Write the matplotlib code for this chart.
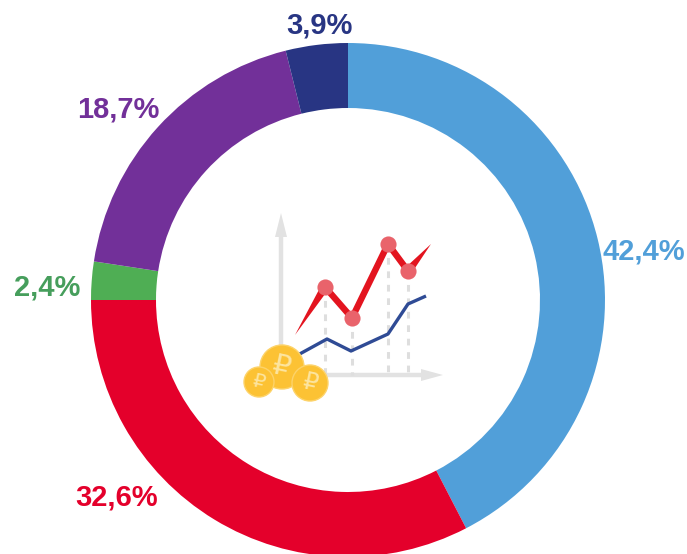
import matplotlib.pyplot as plt
from matplotlib.patches import Circle, Polygon
import numpy as np

plt.rcParams['font.family'] = ['Liberation Sans', 'DejaVu Sans']

labels = ['42,4%', '32,6%', '2,4%', '18,7%', '3,9%']
values = [42.4, 32.6, 2.4, 18.7, 3.9]
colors = ['#519fd9', '#e4002b', '#4fae54', '#723099', '#283583']
label_colors = ['#519fd9', '#e4002b', '#469e5c', '#723099', '#283583']

# little chart icon in the middle, pixel positions from the picture
red_x = [295, 325, 352, 388, 408, 431]
red_y = [335, 287, 318, 244, 271, 244]
blue_x = [296, 327, 351, 388, 408, 426]
blue_y = [356, 339, 351, 334, 304, 296]
coin_x = [282, 259, 310]
coin_y = [367, 382, 383]
coin_r = [22, 15, 18]

W, H = 687, 554
fig = plt.figure(figsize=(W/100, H/100), dpi=100)

# pie axes, donut centre at 348,300 radius 257
ax = fig.add_axes([(348-257)/W, 1-(300+257)/H, 514/W, 514/H])
ax.pie(values, colors=colors, startangle=90, counterclock=False, radius=1,
       wedgeprops=dict(width=1-192/257))
ax.set_xlim(-1, 1)
ax.set_ylim(-1, 1)

# overlay in pixel coords
ov = fig.add_axes([0, 0, 1, 1])
ov.set_xlim(0, W)
ov.set_ylim(H, 0)
ov.axis('off')
ov.patch.set_alpha(0)

ov.plot([281, 281], [235, 375], color='#e2e2e2', lw=3.2)
ov.plot([281, 424], [375, 375], color='#e2e2e2', lw=3.2)
ov.add_patch(Polygon([[275, 237], [281, 213], [287, 237]], color='#e2e2e2', lw=0))
ov.add_patch(Polygon([[421, 369], [443, 375], [421, 381]], color='#e2e2e2', lw=0))

for x, y in zip(red_x[1:5], red_y[1:5]):
    ov.plot([x, x], [y, 375], color='#dedede', lw=2.2, ls=(0, (2.2, 2.2)))

ov.plot(blue_x, blue_y, color='#2f4b95', lw=2.4, solid_capstyle='butt')

# red line is tapered at both ends
ov.plot(red_x[1:5], red_y[1:5], color='#e3141f', lw=4.6, solid_joinstyle='miter')
ov.add_patch(Polygon([[red_x[0], red_y[0]], [red_x[1]-3, red_y[1]-3], [red_x[1]+3, red_y[1]+3]],
                     color='#e3141f', lw=0))
ov.add_patch(Polygon([[red_x[5], red_y[5]], [red_x[4]-3, red_y[4]-3], [red_x[4]+3, red_y[4]+3]],
                     color='#e3141f', lw=0))
ov.scatter(red_x[1:5], red_y[1:5], s=135, color='#e9636b', zorder=3, linewidths=0)

for x, y, r in zip(coin_x, coin_y, coin_r):
    ov.add_patch(Circle((x, y), r, facecolor='#fcc234', edgecolor='#fdd36a', lw=1, zorder=4))
    ov.text(x, y, '₽', color='#fde5a0', fontsize=r*0.95, ha='center', va='center',
            rotation=-12, family='DejaVu Sans', zorder=5)

label_x = [644, 117, 47, 118, 319]
label_y = [252, 497, 287, 110, 25]
for t, x, y, c in zip(labels, label_x, label_y, label_colors):
    ov.text(x, y, t, color=c, fontsize=21, fontweight='bold', ha='center', va='center')

fig.savefig('out.png', dpi=100)
